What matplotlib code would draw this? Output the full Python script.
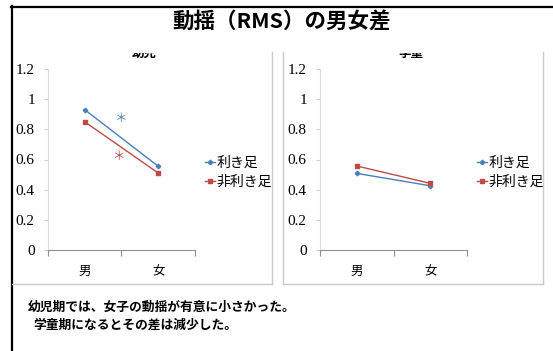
import matplotlib.pyplot as plt
from matplotlib.lines import Line2D

plt.rcParams["font.family"] = ["Noto Sans CJK JP", "DejaVu Sans"]

W, H = 553, 351

categories = ["男", "女"]
series_names = ["利き足", "非利き足"]
colors = ["#4a7ebb", "#be4b48"]
markers = ["D", "s"]

# 幼児 / 学童 の RMS 平均値
infant_values = [[0.93, 0.555], [0.85, 0.51]]
school_values = [[0.508, 0.426], [0.557, 0.442]]

# 有意差マーク (x 位置, 値)
infant_marks = [(0.99, 0.87), (0.95, 0.62)]

yticks = [0, 0.2, 0.4, 0.6, 0.8, 1, 1.2]
ytick_labels = ["0", "0.2", "0.4", "0.6", "0.8", "1", "1.2"]


def px_axes(fig, left, top, right, bottom):
    return fig.add_axes([left / W, 1 - bottom / H, (right - left) / W, (bottom - top) / H])


def fig_line(fig, xs, ys, color, lw):
    fig.add_artist(Line2D([x / W for x in xs], [1 - y / H for y in ys],
                          color=color, lw=lw, transform=fig.transFigure))


def draw_panel(ax, values, title, title_x, marks=None):
    x = [0.5, 1.5]
    for vals, name, c, m in zip(values, series_names, colors, markers):
        ax.plot(x, vals, color=c, lw=1.0, marker=m, markersize=2.3, label=name)
    if marks:
        for (mx, my), c in zip(marks, colors):
            ax.text(mx, my, "＊", color=c, fontsize=9, ha="center", va="center")
    ax.set_xlim(0, 2)
    ax.set_ylim(0, 1.2)
    ax.set_yticks(yticks)
    ax.set_yticklabels(ytick_labels, family="Liberation Serif", fontsize=11)
    ax.set_xticks([0, 1, 2])
    ax.set_xticklabels([])
    ax.set_xticks(x, minor=True)
    ax.set_xticklabels(categories, minor=True, fontsize=9)
    ax.tick_params(axis="x", which="minor", length=0, pad=11)
    ax.tick_params(axis="x", which="major", length=4, color="#909090", direction="out")
    ax.tick_params(axis="y", length=3, color="#d0d0d0", pad=6.5)
    for s in ("top", "right"):
        ax.spines[s].set_visible(False)
    ax.spines["bottom"].set_color("#909090")
    ax.spines["left"].set_color("#dcdcdc")
    ax.legend(loc="center left", bbox_to_anchor=(1.03, 0.43), frameon=False,
              handlelength=0.7, handletextpad=0.15, labelspacing=0.35,
              borderaxespad=0, fontsize=10)
    # パネル見出し (上端で切れている)
    t = fig.text(title_x / W, 1 - 57 / H, title, fontsize=9, weight="bold",
                 ha="center", va="baseline")
    clip = plt.Rectangle((0, 0), 1, 1 - 52.5 / H, transform=fig.transFigure)
    t.set_clip_path(clip)


fig = plt.figure(figsize=(W / 100, H / 100), dpi=100)

# 枠線
fig_line(fig, [11, 553], [6.5, 6.5], "black", 1.6)
fig_line(fig, [11.5, 11.5], [6, 351], "black", 1.6)
fig_line(fig, [272, 272], [52, 284], "#c8c8c8", 1.0)
fig_line(fig, [12, 272], [284, 284], "#c8c8c8", 1.0)
fig_line(fig, [283, 283], [52, 284], "#c8c8c8", 1.0)
fig_line(fig, [543, 543], [52, 284], "#c8c8c8", 1.0)
fig_line(fig, [283, 543], [284, 284], "#c8c8c8", 1.0)

fig.text(282 / W, 1 - 22 / H, "動揺（RMS）の男女差", fontsize=15.5, weight="bold",
         ha="center", va="center")

ax1 = px_axes(fig, 48, 69, 195, 250)
draw_panel(ax1, infant_values, "幼児", 144, infant_marks)

ax2 = px_axes(fig, 320, 69, 467, 250)
draw_panel(ax2, school_values, "学童", 411)

fig.text(28 / W, 1 - 307 / H, "幼児期では、女子の動揺が有意に小さかった。", fontsize=9.2,
         weight="bold", ha="left", va="center")
fig.text(33 / W, 1 - 325 / H, "学童期になるとその差は減少した。", fontsize=9.2,
         weight="bold", ha="left", va="center")

fig.savefig("out.png", dpi=100)
